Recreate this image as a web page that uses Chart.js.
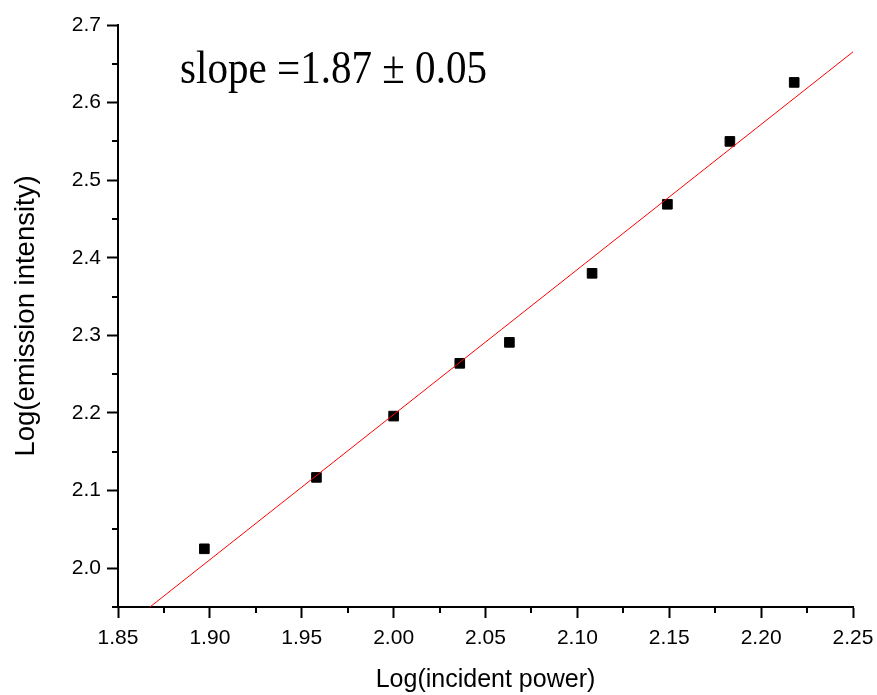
<!DOCTYPE html>
<html>
<head>
<meta charset="utf-8">
<script src="https://cdn.jsdelivr.net/npm/chart.js@4/dist/chart.umd.min.js"></script>
<style>
  html, body { margin: 0; padding: 0; background: #fff; }
  #wrap { width: 877px; height: 695px; }
</style>
</head>
<body>
<div id="wrap"><canvas id="plot" width="877" height="695"></canvas></div>
<script>
// measured points
const logPower = [1.897, 1.958, 2.000, 2.036, 2.063, 2.108, 2.149, 2.183, 2.218]
const logIntensity = [2.025, 2.117, 2.196, 2.264, 2.291, 2.380, 2.469, 2.550, 2.626]

// linear fit, end points
const fitX = [1.8674, 2.25]
const fitY = [1.95, 2.6654]

const xLimits = [1.85, 2.25]
const yLimits = [1.95, 2.7]
const slopeText = 'slope =1.87 \u00b1 0.05'

const isMajorX = v => Math.round(v * 1000) % 50 === 0
const isMajorY = v => Math.round(v * 100) % 10 === 0

Chart.defaults.font.family = '"Liberation Sans", Arial, sans-serif'
Chart.defaults.color = '#000'

const extras = {
    id: 'extras',
    afterDraw(chart) {
        const ctx = chart.ctx
        const xs = chart.scales.x
        const ys = chart.scales.y
        ctx.save()
        // minor ticks
        ctx.strokeStyle = '#000'
        ctx.lineWidth = 2
        ctx.beginPath()
        for (const t of xs.ticks) {
            if (isMajorX(t.value)) continue
            const px = Math.round(xs.getPixelForValue(t.value))
            ctx.moveTo(px, xs.top)
            ctx.lineTo(px, xs.top + 6)
        }
        for (const t of ys.ticks) {
            if (isMajorY(t.value)) continue
            const py = Math.round(ys.getPixelForValue(t.value))
            ctx.moveTo(ys.right, py)
            ctx.lineTo(ys.right - 6, py)
        }
        ctx.stroke()
        // slope annotation
        ctx.fillStyle = '#000'
        ctx.font = '46px "Liberation Serif", "Times New Roman", serif'
        ctx.textBaseline = 'alphabetic'
        ctx.textAlign = 'left'
        ctx.fillText(slopeText, 180, 83, 307)
        ctx.restore()
    }
}

const scatterPts = logPower.map((x, i) => ({x: x, y: logIntensity[i]}))
const fitPts = fitX.map((x, i) => ({x: x, y: fitY[i]}))

const tickGrid = (major) => ({
    drawOnChartArea: false,
    drawTicks: true,
    tickLength: 11,
    tickWidth: 2,
    tickColor: c => (c.tick && major(c.tick.value)) ? '#000' : 'rgba(0,0,0,0)',
})

new Chart(document.getElementById('plot').getContext('2d'), {
    type: 'scatter',
    data: {
        datasets: [
            {
                label: 'fit',
                type: 'line',
                data: fitPts,
                borderColor: '#ff0000',
                borderWidth: 1,
                pointRadius: 0,
                fill: false,
                tension: 0,
            },
            {
                label: 'data',
                data: scatterPts,
                pointStyle: 'rect',
                pointRadius: 6.8,
                pointBorderWidth: 1,
                backgroundColor: '#000',
                borderColor: '#000',
            }
        ]
    },
    options: {
        responsive: false,
        animation: false,
        devicePixelRatio: 1,
        layout: { padding: { top: 25, right: 24, left: 0, bottom: 0 } },
        plugins: {
            legend: { display: false },
            tooltip: { enabled: false },
        },
        scales: {
            x: {
                type: 'linear',
                position: 'bottom',
                min: xLimits[0],
                max: xLimits[1],
                afterFit: s => { s.height = 88; s.paddingLeft = 0; s.paddingRight = 0 },
                grid: tickGrid(isMajorX),
                border: { display: true, color: '#000', width: 2 },
                ticks: {
                    stepSize: 0.025,
                    autoSkip: false,
                    maxRotation: 0,
                    padding: 8,
                    font: { size: 21 },
                    callback: v => isMajorX(v) ? v.toFixed(2) : '',
                },
                title: {
                    display: true,
                    text: 'Log(incident power)',
                    font: { size: 25 },
                    padding: { top: 3, bottom: 0 },
                },
            },
            y: {
                type: 'linear',
                position: 'left',
                min: yLimits[0],
                max: yLimits[1],
                afterFit: s => { s.width = 118; s.paddingTop = 0; s.paddingBottom = 0 },
                grid: tickGrid(isMajorY),
                border: { display: true, color: '#000', width: 2 },
                ticks: {
                    stepSize: 0.05,
                    autoSkip: false,
                    padding: 6,
                    font: { size: 21 },
                    callback: v => isMajorY(v) ? v.toFixed(1) : '',
                },
                title: {
                    display: true,
                    text: 'Log(emission intensity)',
                    font: { size: 27.5 },
                    padding: { top: 10, bottom: 0 },
                },
            }
        }
    },
    plugins: [extras]
})
</script>
</body>
</html>
